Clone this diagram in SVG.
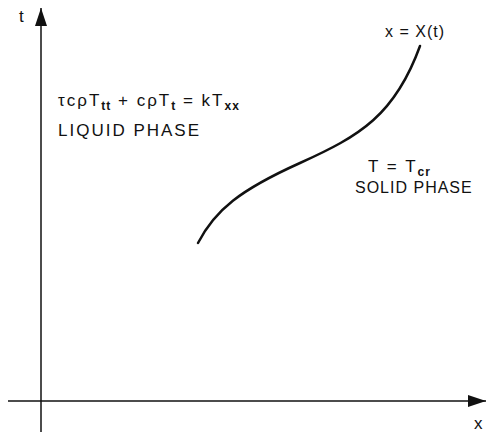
<svg xmlns="http://www.w3.org/2000/svg" width="486" height="432" viewBox="0 0 486 432">
<style>
.t{font-family:"Liberation Sans","DejaVu Sans",sans-serif;font-size:17px;fill:#111;letter-spacing:2px}
.n{font-size:16px;letter-spacing:1px}
.s{font-size:12px;font-weight:bold;letter-spacing:1px}
.ax{stroke:#111;stroke-width:1.5;fill:none}
</style>
<defs>
<marker id="ah" markerWidth="20" markerHeight="12" refX="18" refY="6" orient="auto" markerUnits="userSpaceOnUse">
<path d="M0,0 L18,6 L0,12 Z" fill="#111"/>
</marker>
</defs>
<rect width="486" height="432" fill="#fff"/>
<g id="connectors">
<line class="ax" x1="41" y1="432" x2="41" y2="8" marker-end="url(#ah)"/>
<line class="ax" x1="8" y1="401" x2="486" y2="401" marker-end="url(#ah)"/>
</g>
<g id="curve">
<path d="M198,243 C215,210 240,190 300,163 C360,136 395,115 420,46" fill="none" stroke="#111" stroke-width="2.5" stroke-linecap="round"/>
</g>
<g id="labels">
<text class="t" x="19" y="22">t</text>
<text class="t" x="474" y="429">x</text>
<text class="t n" x="385" y="37">x = X(t)</text>
<text class="t" x="58" y="106">τcρT<tspan class="s" dy="4">tt</tspan><tspan dy="-4"> + cρT</tspan><tspan class="s" dy="4">t</tspan><tspan dy="-4"> = kT</tspan><tspan class="s" dy="4">xx</tspan></text>
<text class="t" x="58" y="136">LIQUID PHASE</text>
<text class="t" x="368" y="172">T = T<tspan class="s" dy="4">cr</tspan></text>
<text class="t n" x="355" y="193">SOLID PHASE</text>
</g>
</svg>
